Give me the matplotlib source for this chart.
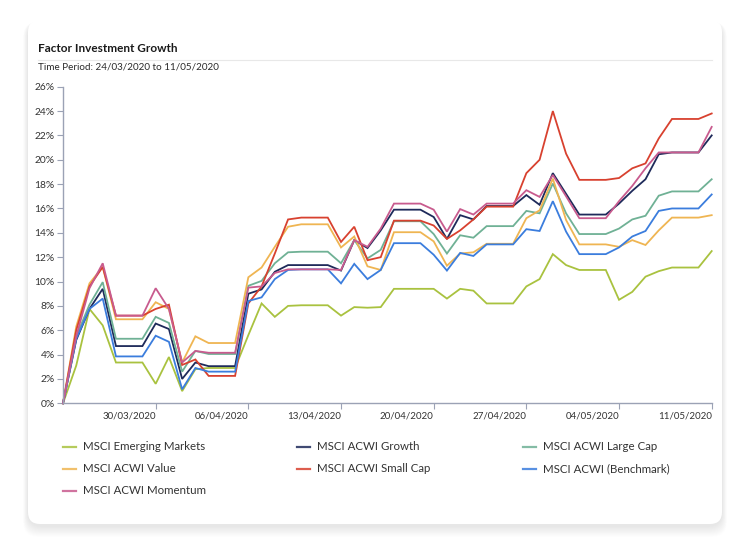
import matplotlib
matplotlib.use("Agg")
import matplotlib.pyplot as plt
from matplotlib.patches import FancyBboxPatch
from matplotlib.lines import Line2D
import pandas as pd

plt.rcParams['font.family'] = ['Lato', 'DejaVu Sans']

dates = pd.date_range('2020-03-23', '2020-05-11', freq='D')

emerging = [0, 3.1, 7.75, 6.4, 3.35, 3.35, 3.35, 1.6, 3.8, 1.0, 2.8, 2.9, 2.9, 2.9,
            5.6, 8.2, 7.1, 8.0, 8.05, 8.05, 8.05, 7.2, 7.9, 7.85, 7.9, 9.4, 9.4, 9.4,
            9.4, 8.6, 9.4, 9.25, 8.2, 8.2, 8.2, 9.6, 10.2, 12.25, 11.35, 10.95, 10.95,
            10.95, 8.5, 9.15, 10.4, 10.85, 11.15, 11.15, 11.15, 12.5]
growth = [0, 5.2, 7.75, 9.4, 4.7, 4.7, 4.7, 6.55, 6.1, 2.0, 3.35, 3.05, 3.05, 3.05,
          9.0, 9.35, 10.8, 11.35, 11.35, 11.35, 11.35, 10.9, 13.4, 12.75, 14.2, 15.9,
          15.9, 15.9, 15.3, 13.5, 15.45, 15.1, 16.2, 16.2, 16.2, 17.1, 16.3, 18.9, 17.2,
          15.5, 15.5, 15.5, 16.4, 17.45, 18.4, 20.45, 20.6, 20.6, 20.6, 22.0]
large_cap = [0, 5.5, 8.1, 9.95, 5.3, 5.3, 5.3, 7.1, 6.6, 2.6, 4.3, 4.05, 4.05, 4.05,
             9.65, 10.05, 11.5, 12.4, 12.45, 12.45, 12.45, 11.5, 13.4, 11.9, 12.6, 14.95,
             14.95, 14.95, 13.9, 12.3, 13.8, 13.6, 14.55, 14.55, 14.55, 15.8, 15.6, 18.05,
             15.6, 13.9, 13.9, 13.9, 14.35, 15.1, 15.4, 17.05, 17.4, 17.4, 17.4, 18.4]
value = [0, 6.3, 9.85, 11.2, 6.9, 6.9, 6.9, 8.3, 7.75, 3.35, 5.5, 4.95, 4.95, 4.95,
         10.35, 11.15, 12.85, 14.5, 14.7, 14.7, 14.7, 12.8, 13.7, 11.25, 10.95, 14.05,
         14.05, 14.05, 13.3, 11.3, 12.3, 12.4, 13.1, 13.1, 13.1, 15.2, 15.85, 18.45,
         15.05, 13.05, 13.05, 13.05, 12.85, 13.4, 13.0, 14.2, 15.25, 15.25, 15.25, 15.45]
small_cap = [0, 6.0, 9.6, 11.2, 7.2, 7.2, 7.2, 7.75, 8.1, 3.15, 3.6, 2.25, 2.25, 2.25,
             8.2, 9.6, 12.3, 15.1, 15.25, 15.25, 15.25, 13.25, 14.5, 11.75, 12.0, 15.0,
             15.0, 15.0, 14.6, 13.5, 14.2, 15.1, 16.15, 16.15, 16.15, 18.9, 20.0, 24.0,
             20.5, 18.35, 18.35, 18.35, 18.5, 19.3, 19.7, 21.75, 23.35, 23.35, 23.35, 23.8]
benchmark = [0, 5.3, 7.75, 8.6, 3.85, 3.85, 3.85, 5.55, 5.05, 1.15, 2.9, 2.6, 2.6, 2.6,
             8.4, 8.7, 10.2, 10.95, 11.0, 11.0, 11.0, 9.85, 11.45, 10.2, 10.95, 13.15,
             13.15, 13.15, 12.2, 10.9, 12.35, 12.1, 13.05, 13.05, 13.05, 14.3, 14.15, 16.6,
             14.1, 12.25, 12.25, 12.25, 12.8, 13.7, 14.15, 15.8, 16.0, 16.0, 16.0, 17.15]
momentum = [0, 5.5, 9.45, 11.5, 7.2, 7.2, 7.2, 9.45, 7.75, 3.35, 4.3, 4.15, 4.15, 4.15,
            9.5, 9.6, 10.7, 11.0, 11.0, 11.0, 11.0, 10.95, 13.4, 12.85, 14.35, 16.4,
            16.4, 16.4, 15.9, 14.1, 15.95, 15.5, 16.4, 16.4, 16.4, 17.5, 16.95, 18.75,
            17.0, 15.2, 15.2, 15.2, 16.6, 17.85, 19.3, 20.6, 20.6, 20.6, 20.6, 22.7]

series_names = ['MSCI Emerging Markets', 'MSCI ACWI Growth', 'MSCI ACWI Large Cap',
                'MSCI ACWI Value', 'MSCI ACWI Small Cap', 'MSCI ACWI (Benchmark)',
                'MSCI ACWI Momentum']
series_values = [emerging, growth, large_cap, value, small_cap, benchmark, momentum]
series_colors = ['#a9c23f', '#1e2a5a', '#6fb195', '#efb552', '#d8412f', '#3b7ddd', '#c85b8e']

y_ticks = list(range(0, 27, 2))
x_tick_labels = ['30/03/2020', '06/04/2020', '13/04/2020', '20/04/2020',
                 '27/04/2020', '04/05/2020', '11/05/2020']

W, H = 750, 554
fig = plt.figure(figsize=(W / 100, H / 100), dpi=100)
fig.patch.set_facecolor('white')


def px_box(x0, y0, x1, y1):
    return (x0 / W, 1 - y1 / H, (x1 - x0) / W, (y1 - y0) / H)


# card with soft shadow
for k in range(12, 0, -1):
    bx, by, bw, bh = px_box(28 - k * 0.4, 20 + 2, 722 + k * 0.4, 524 + 2 + k * 0.9)
    sh = FancyBboxPatch((bx, by), bw, bh, boxstyle="round,pad=0,rounding_size=0.02",
                        transform=fig.transFigure, facecolor='#000000', alpha=0.009,
                        edgecolor='none', zorder=-3, mutation_aspect=W / H)
    fig.patches.append(sh)
bx, by, bw, bh = px_box(28, 20, 722, 524)
card = FancyBboxPatch((bx, by), bw, bh, boxstyle="round,pad=0,rounding_size=0.016",
                      transform=fig.transFigure, facecolor='white', edgecolor='none',
                      zorder=-2, mutation_aspect=W / H)
fig.patches.append(card)

fig.text(38 / W, 1 - 48 / H, 'Factor Investment Growth', fontsize=8.5, fontweight='bold',
         color='#1a1a1a', va='center', ha='left')
fig.text(38 / W, 1 - 67 / H, 'Time Period: 24/03/2020 to 11/05/2020', fontsize=7.1,
         color='#2a2a2a', va='center', ha='left')
fig.add_artist(Line2D([38 / W, 712 / W], [1 - 59.5 / H, 1 - 59.5 / H],
                      transform=fig.transFigure, color='#e8e8e8', lw=0.8))

ax = fig.add_axes([63 / W, 1 - 403.3 / H, (711.7 - 63) / W, (403.3 - 86.7) / H])
ax.set_facecolor('none')
for name, vals, col in zip(series_names, series_values, series_colors):
    ax.plot(dates, vals, color=col, lw=1.3, label=name, solid_joinstyle='miter', clip_on=False)

ax.set_xlim(dates[0], dates[-1])
ax.set_ylim(0, 26)
ax.set_yticks(y_ticks)
ax.set_yticklabels([f'{t}%' for t in y_ticks])
tick_dates = pd.to_datetime(x_tick_labels, format='%d/%m/%Y')
ax.set_xticks(tick_dates)
ax.set_xticklabels(x_tick_labels, ha='right')

spine_col = '#9ba2b5'
for s in ['top', 'right']:
    ax.spines[s].set_visible(False)
for s in ['left', 'bottom']:
    ax.spines[s].set_color(spine_col)
    ax.spines[s].set_linewidth(1.0)
ax.tick_params(axis='both', colors=spine_col, labelcolor='#333333',
               length=4, width=0.8)
ax.tick_params(axis='y', pad=2, labelsize=7.4)
ax.tick_params(axis='x', pad=2, labelsize=7.0)

# legend (row-wise order)
col_x = [63, 297, 523]
row_y = [447, 469, 491]
for idx, (name, col) in enumerate(zip(series_names, series_colors)):
    r, c = divmod(idx, 3)
    x0 = col_x[c]
    y0 = 1 - row_y[r] / H
    fig.add_artist(Line2D([x0 / W, (x0 + 13) / W], [y0, y0], transform=fig.transFigure,
                          color=col, lw=1.6, alpha=0.85))
    fig.text((x0 + 20) / W, y0, name, fontsize=8.3, color='#333333', va='center', ha='left')

fig.savefig('out.png', dpi=100, facecolor=fig.get_facecolor())
